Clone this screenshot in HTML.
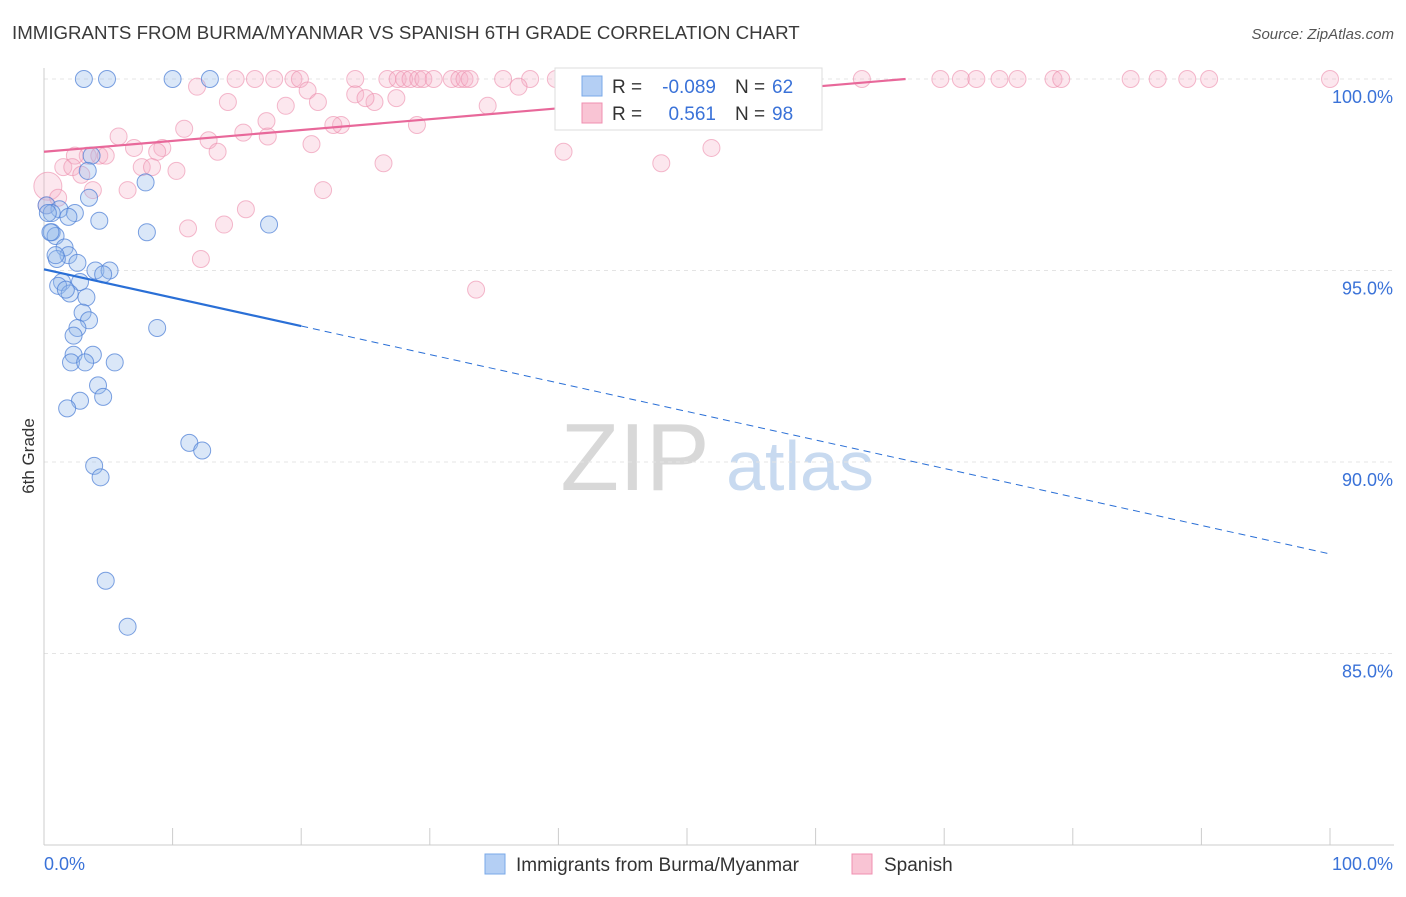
<!DOCTYPE html>
<html><head><meta charset="utf-8"><style>
body{margin:0;background:#fff;font-family:"Liberation Sans",sans-serif;}
svg text{font-family:"Liberation Sans",sans-serif;}
</style></head><body>
<svg id="chart" width="1406" height="892">
<text x="12" y="39" font-size="18.7" fill="#3a3a3a">IMMIGRANTS FROM BURMA/MYANMAR VS SPANISH 6TH GRADE CORRELATION CHART</text>
<text x="1394" y="39" font-size="15" fill="#555" font-style="italic" text-anchor="end">Source: ZipAtlas.com</text>
<text x="34" y="456" font-size="17" fill="#333" transform="rotate(-90 34 456)" text-anchor="middle">6th Grade</text>
<g><text x="635" y="490" font-size="96" font-family="Liberation Serif" fill="#d8d8d8" text-anchor="middle">ZIP</text><text x="800" y="490" font-size="70" fill="#c8daf0" text-anchor="middle">atlas</text></g>
<g id="grid"></g><g id="axes"></g><g id="pts"></g><g id="trend"></g>
<g>
<rect x="555" y="68" width="267" height="62" fill="#fff" stroke="#ddd"/>
<rect x="582" y="76" width="20" height="20" fill="#b4cff4" stroke="#7aa8e8"/>
<text x="612" y="93" font-size="19" fill="#333">R =</text>
<text x="716" y="93" font-size="19" fill="#3a72d8" text-anchor="end">-0.089</text>
<text x="735" y="93" font-size="19" fill="#333">N =</text>
<text x="772" y="93" font-size="19" fill="#3a72d8">62</text>
<rect x="582" y="103" width="20" height="20" fill="#f9c4d4" stroke="#f08fb0"/>
<text x="612" y="120" font-size="19" fill="#333">R =</text>
<text x="716" y="120" font-size="19" fill="#3a72d8" text-anchor="end">0.561</text>
<text x="735" y="120" font-size="19" fill="#333">N =</text>
<text x="772" y="120" font-size="19" fill="#3a72d8">98</text>
</g>
<g>
<rect x="485" y="854" width="20" height="20" fill="#b4cff4" stroke="#7aa8e8"/>
<text x="516" y="871" font-size="19" fill="#333">Immigrants from Burma/Myanmar</text>
<rect x="852" y="854" width="20" height="20" fill="#f9c4d4" stroke="#f08fb0"/>
<text x="884" y="871" font-size="19" fill="#333">Spanish</text>
</g>
</svg>
<script>
const yTicks=[100,95,90,85];
const yLabels=["100.0%","95.0%","90.0%","85.0%"];
const blueX=[3.1,4.9,10.0,12.9,3.7,3.4,7.9,3.5,0.2,1.2,2.4,0.6,4.3,1.9,8.0,17.5,0.6,0.9,1.6,1.9,1.0,2.6,4.0,5.1,4.6,1.4,2.8,1.1,2.0,3.3,3.0,3.5,8.8,2.6,2.3,3.8,2.3,2.1,3.2,5.5,4.2,2.8,4.6,1.8,11.3,12.3,3.9,4.4,4.8,6.5,0.3,0.5,0.9,1.7];
const blueY=[100,100,100,100,98.0,97.6,97.3,96.9,96.7,96.6,96.5,96.5,96.3,96.4,96.0,96.2,96.0,95.9,95.6,95.4,95.3,95.2,95.0,95.0,94.9,94.7,94.7,94.6,94.4,94.3,93.9,93.7,93.5,93.5,93.3,92.8,92.8,92.6,92.6,92.6,92.0,91.6,91.7,91.4,90.5,90.3,89.9,89.6,86.9,85.7,96.5,96.0,95.4,94.5];
const pinkX=[14.9,16.4,17.9,19.4,19.9,24.2,26.7,27.5,28.0,28.5,29.1,29.5,30.3,31.7,32.3,32.7,33.1,35.7,37.8,39.8,41.7,43.2,44.5,46.7,48.8,52.6,53.6,55.7,56.5,63.6,69.7,71.3,72.5,74.3,75.7,78.5,79.1,84.5,86.6,88.9,90.6,100,
11.9,14.3,20.5,21.3,18.8,24.2,25.7,27.4,36.9,34.5,17.3,25.0,23.1,22.5,29.0,15.5,5.8,10.9,17.4,20.8,12.8,9.2,7.0,3.4,4.3,4.8,2.4,13.5,8.8,1.5,2.2,7.6,8.4,10.3,2.9,26.4,40.4,48.0,51.9,3.8,6.5,21.7,15.7,14.0,11.2,12.2,33.6,0.3,0.2,1.1];
const pinkY=[100,100,100,100,100,100,100,100,100,100,100,100,100,100,100,100,100,100,100,100,100,100,100,100,100,100,100,100,100,100,100,100,100,100,100,100,100,100,100,100,100,100,
99.8,99.4,99.7,99.4,99.3,99.6,99.4,99.5,99.8,99.3,98.9,99.5,98.8,98.8,98.8,98.6,98.5,98.7,98.5,98.3,98.4,98.2,98.2,98.0,98.0,98.0,98.0,98.1,98.1,97.7,97.7,97.7,97.7,97.6,97.5,97.8,98.1,97.8,98.2,97.1,97.1,97.1,96.6,96.2,96.1,95.3,94.5,97.2,96.7,96.9];
const X=v=>44+v*12.86, Y=v=>79+(100-v)*38.3;
const NS="http://www.w3.org/2000/svg";
function mk(t,a,p){const e=document.createElementNS(NS,t);for(const k in a)e.setAttribute(k,a[k]);document.getElementById(p).appendChild(e);return e;}
yTicks.forEach((t,i)=>{
 const g=mk('line',{x1:44,x2:1394,y1:Y(t),y2:Y(t),stroke:'#e4e4e4','stroke-dasharray':'4 4'},'grid');
 
 
 const l=mk('text',{x:1393,y:Y(t)+24,'font-size':18,fill:'#3a72d8','text-anchor':'end'},'axes');l.textContent=yLabels[i];
 
 
});
const ax=mk('line',{x1:44,x2:44,y1:68,y2:845,stroke:'#ccc'},'axes');


const bx=mk('line',{x1:44,x2:1394,y1:845,y2:845,stroke:'#ccc'},'axes');


for(let i=0;i<=10;i++){const t=mk('line',{x1:X(i*10),x2:X(i*10),y1:828,y2:845,stroke:'#ccc'},'axes');
 
 }
[["0.0%",44,'start'],["100.0%",1393,'end']].forEach(a=>{const t=mk('text',{x:a[1],y:870,'font-size':18,fill:'#3a72d8','text-anchor':a[2]},'axes');t.textContent=a[0];
 
 });
pinkX.forEach((v,i)=>{const c=mk('circle',{cx:X(v),cy:Y(pinkY[i]),r:i==pinkX.length-3?14:8.5,fill:'rgba(246,175,198,0.3)',stroke:'rgba(236,140,172,0.6)','stroke-width':1},'pts');
 
 });
blueX.forEach((v,i)=>{const c=mk('circle',{cx:X(v),cy:Y(blueY[i]),r:8.5,fill:'rgba(150,186,236,0.35)',stroke:'rgba(80,130,215,0.75)','stroke-width':1},'pts');
 
 });
const b1=mk('line',{x1:X(0),y1:Y(95.03),x2:X(20),y2:Y(93.55),stroke:'#2a6fd6','stroke-width':2.2},'trend');


const b2=mk('line',{x1:X(20),y1:Y(93.55),x2:X(100),y2:Y(87.6),stroke:'#2a6fd6','stroke-width':1,'stroke-dasharray':'7 5'},'trend');


const p1=mk('line',{x1:X(0),y1:Y(98.1),x2:X(67),y2:Y(100),stroke:'#e8689a','stroke-width':2.2},'trend');


</script>
</body></html>
